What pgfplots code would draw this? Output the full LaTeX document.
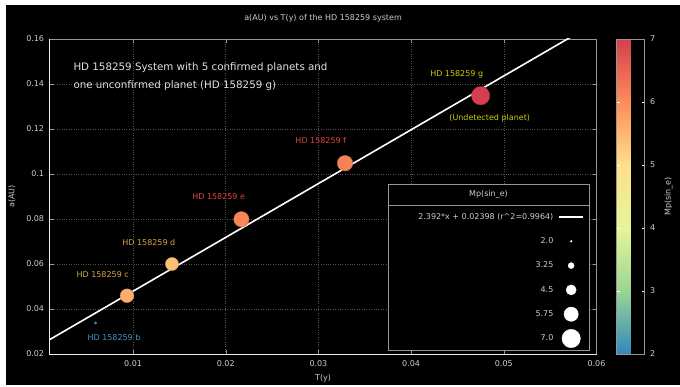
\documentclass[border=0pt]{standalone}
\usepackage{pgfplots}
\pgfplotsset{compat=1.18}
\usepackage{fontspec}
\setmainfont{DejaVu Sans}
\definecolor{axgray}{RGB}{150,150,150}
\definecolor{ticktext}{RGB}{205,205,205}
\definecolor{gridc}{RGB}{80,80,80}
\definecolor{labblue}{RGB}{70,150,200}
\definecolor{labgold}{RGB}{215,165,75}
\definecolor{labred}{RGB}{225,70,60}
\definecolor{labyel}{RGB}{205,205,0}
\pgfplotsset{/pgf/number format/assume math mode=true}
\newcommand{\smallf}{\fontsize{8}{9.5}\selectfont}
\pgfplotstableread{
T a m
0.00596 0.0338 2.2
0.00935 0.0459 5.6
0.0142 0.0600 5.41
0.02169 0.0799 6.08
0.03287 0.1048 6.14
0.0475 0.1348 7.0
}\planets
\begin{document}
\begin{tikzpicture}[x=1pt,y=1pt]
\useasboundingbox (0,0) rectangle (680,-387);
\fill[white] (0,0) rectangle (680,-387);
\fill[black] (6,-5) rectangle (680,-385);
\begin{axis}[
  at={(49.6pt,-354pt)}, anchor=south west,
  scale only axis, width=546.9pt, height=315pt,
  xmin=0.001, xmax=0.06, ymin=0.02, ymax=0.16,
  xtick={0.01,0.02,0.03,0.04,0.05,0.06},
  ytick={0.02,0.04,0.06,0.08,0.1,0.12,0.14,0.16},
  scaled ticks=false,
  xticklabel style={/pgf/number format/fixed,/pgf/number format/precision=2, yshift=-3pt},
  yticklabel style={/pgf/number format/fixed,/pgf/number format/precision=2, xshift=-2pt},
  tick label style={font=\smallf, text=ticktext},
  tick align=inside, major tick length=4pt,
  tick style={axgray},
  axis line style={axgray, line width=0.8pt},
  grid=major, major grid style={gridc, dotted, line width=0.5pt},
  title={a(AU) vs T(y) of the HD 158259 system},
  title style={at={(axis description cs:0.5,1)}, anchor=center, yshift=15pt, font=\smallf, text=ticktext},
  xlabel={T(y)}, ylabel={a(AU)},
  every axis x label/.style={at={(axis description cs:0.5,0)}, anchor=center, yshift=-24pt, font=\smallf, text=ticktext},
  every axis y label/.style={at={(axis description cs:-0.0688,0.5)}, anchor=center, rotate=90, font=\smallf, text=ticktext},
  colormap={spectral}{rgb255(0)=(50,136,189) rgb255(1)=(153,213,148) rgb255(2)=(230,245,152) rgb255(3)=(254,224,139) rgb255(4)=(252,141,89) rgb255(5)=(213,62,79)},
  point meta min=2, point meta max=7,
  colorbar,
  colorbar style={
    at={(parent axis.north east)}, anchor=north west, xshift=11.5pt,
    width=28pt,
    ytick={2,3,4,5,6,7},
    yticklabel pos=right,
    tick align=inside, major tick length=3pt,
    ytick style={white},
    axis line style={axgray, line width=0.8pt},
    yticklabel style={font=\smallf, text=ticktext, xshift=2pt},
    ylabel={Mp(sin\_e)},
    every axis y label/.style={at={(axis description cs:1.857,0.5)}, anchor=center, rotate=90, font=\smallf, text=ticktext},
  },
  legend style={at={(axis description cs:0.9771,0.4735)}, anchor=north east,
    draw=none, fill=none, inner sep=0pt, outer sep=0pt,
    row sep=0pt, column sep=5pt, font=\smallf, text=ticktext,
    nodes={inner sep=0pt, minimum height=24.3pt}},
  legend cell align=right, legend plot pos=right,
]
\draw[axgray, fill=black, line width=0.6pt] (axis cs:0.037507,0.095556) rectangle (axis cs:0.059191,0.021778);
\draw[axgray, line width=0.6pt] (axis cs:0.037507,0.086222) -- (axis cs:0.059191,0.086222);
\node[font=\smallf, text=ticktext] at (axis cs:0.048349,0.090889) {Mp(sin\_e)};
\addplot[scatter, only marks, mark=*, scatter src=explicit, forget plot,
  visualization depends on={\thisrow{m} \as \mass},
  scatter/@pre marker code/.append style={/tikz/mark size={(6+(\mass-3.25)*3.3)/2}}]
  table[x=T, y=a, meta=m] {\planets};
\addplot[white, line width=1.6pt,
  legend image code/.code={\draw[white,line width=1.6pt] (0pt,0pt) -- (24pt,0pt);}]
  coordinates {(0.001,0.026372) (0.06,0.16750)};
\addlegendentry{2.392*x + 0.02398 (r\textasciicircum 2=0.9964)}
\addlegendimage{legend image code/.code={\fill[white] (12pt,0pt) circle (0.94pt);}}
\addlegendentry{2.0}
\addlegendimage{legend image code/.code={\fill[white] (12pt,0pt) circle (3pt);}}
\addlegendentry{3.25}
\addlegendimage{legend image code/.code={\fill[white] (12pt,0pt) circle (5.06pt);}}
\addlegendentry{4.5}
\addlegendimage{legend image code/.code={\fill[white] (12pt,0pt) circle (7.12pt);}}
\addlegendentry{5.75}
\addlegendimage{legend image code/.code={\fill[white] (12pt,0pt) circle (9.19pt);}}
\addlegendentry{7.0}
\end{axis}
\draw[white!85!gray, line width=0.8pt] (49.6,-39) -- (49.6,-354) -- (596.5,-354);
\node[anchor=base west, inner sep=0pt, font=\fontsize{10.3}{13}\selectfont, text=white!88!black] at (73.3,-70.7) {HD 158259 System with 5 confirmed planets and};
\node[anchor=base west, inner sep=0pt, font=\fontsize{10.3}{13}\selectfont, text=white!88!black] at (73.3,-88.3) {one unconfirmed planet (HD 158259 g)};
\node[anchor=base, font=\smallf, text=labblue] at (114,-340.3) {HD 158259 b};
\node[anchor=base, font=\smallf, text=labgold] at (102.7,-277.3) {HD 158259 c};
\node[anchor=base, font=\smallf, text=labgold] at (148.8,-245.3) {HD 158259 d};
\node[anchor=base, font=\smallf, text=labred] at (218.7,-199.7) {HD 158259 e};
\node[anchor=base, font=\smallf, text=labred] at (320.8,-144) {HD 158259 f};
\node[anchor=base, font=\smallf, text=labyel] at (456.7,-76.3) {HD 158259 g};
\node[anchor=base, font=\smallf, text=labyel] at (489.7,-121) {(Undetected planet)};
\end{tikzpicture}
\end{document}
